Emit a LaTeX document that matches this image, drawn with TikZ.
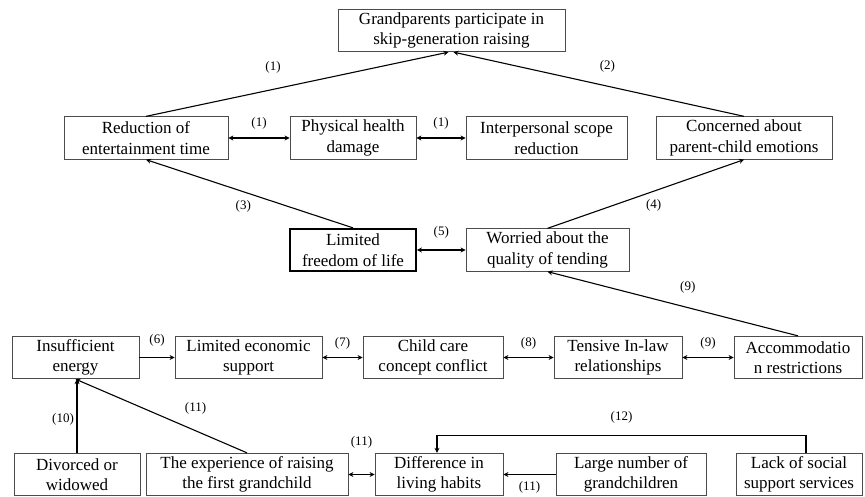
\documentclass[tikz,border=0pt]{standalone}
\usepackage{fontspec}
\setmainfont{Liberation Serif}
\usetikzlibrary{arrows.meta}

\begin{document}
\begin{tikzpicture}[%
    x=1pt, y=-1pt,
    box/.style={draw=black!70, line width=0.8pt, inner sep=0pt, align=center,
        minimum height=42.5pt, font=\fontsize{17}{20.5}\selectfont},
    thickbox/.style={box, draw=black, line width=1.8pt},
    lbl/.style={inner sep=0pt, font=\fontsize{13}{15}\selectfont},
    link/.style={line width=1.1pt, -{Stealth[length=5pt,width=5pt]}},
    both/.style={link, {Stealth[length=5pt,width=5pt]}-{Stealth[length=5pt,width=5pt]}}]

    \useasboundingbox (0,0) rectangle (865,497);

    \node[box, minimum width=227pt] (top) at (451.5,30.5) {Grandparents participate in\\skip-generation raising};

    \node[box, minimum width=164pt] (red) at (146,138) {Reduction of\\entertainment time};
    \node[box, minimum width=126pt] (phys) at (353,138) {Physical health\\damage};
    \node[box, minimum width=161pt] (inter) at (546.5,138) {Interpersonal scope\\reduction};
    \node[box, minimum width=176pt] (conc) at (744,138) {Concerned about\\parent-child emotions};

    \node[thickbox, minimum width=126pt] (lim) at (353,250) {Limited\\freedom of life};
    \node[box, minimum width=163pt] (wor) at (547.5,250) {Worried about the\\quality of tending};

    \node[box, minimum width=127pt] (ins) at (75.5,357.5) {Insufficient\\energy};
    \node[box, minimum width=147pt] (eco) at (248.5,357.5) {Limited economic\\support};
    \node[box, minimum width=140pt] (care) at (433,357.5) {Child care\\concept conflict};
    \node[box, minimum width=128pt] (ten) at (618,357.5) {Tensive In-law\\relationships};
    \node[box, minimum width=128pt] (acc) at (798,357.5) {Accommodatio\\n restrictions};

    \node[box, minimum width=126pt] (div) at (77,474.5) {Divorced or\\widowed};
    \node[box, minimum width=202pt] (exp) at (247,474.5) {The experience of raising\\the first grandchild};
    \node[box, minimum width=128pt] (dif) at (439,474.5) {Difference in\\living habits};
    \node[box, minimum width=150pt] (lar) at (631,474.5) {Large number of\\grandchildren};
    \node[box, minimum width=126pt] (lack) at (799,474.5) {Lack of social\\support services};

    % upper part
    \draw[link] (red.north) -- ([xshift=-3pt]top.south) node[lbl, pos=.42, yshift=22pt] {(1)};
    \draw[link] (conc.north) -- ([xshift=2pt]top.south) node[lbl, pos=.47, yshift=20pt] {(2)};
    \draw[both] (red) -- (phys) node[lbl, midway, yshift=15pt] {(1)};
    \draw[both] (phys) -- (inter) node[lbl, midway, yshift=15pt] {(1)};
    \draw[link] (lim.north) -- (red.south) node[lbl, pos=.53, yshift=-15pt] {(3)};
    \draw[link] (wor.north) -- (conc.south) node[lbl, pos=.54, yshift=-14pt] {(4)};
    \draw[both] (lim) -- (wor) node[lbl, midway, yshift=18pt] {(5)};
    \draw[link] (acc.north) -- (wor.south) node[lbl, pos=.44, yshift=20pt] {(9)};

    % middle row
    \draw[link] (ins) -- (eco) node[lbl, midway, yshift=17pt] {(6)};
    \draw[both] (eco) -- (care) node[lbl, midway, yshift=14pt] {(7)};
    \draw[both] (care) -- (ten) node[lbl, midway, yshift=14pt] {(8)};
    \draw[both] (ten) -- (acc) node[lbl, midway, yshift=14pt] {(9)};

    % bottom row
    \draw[link] (div.north) -- (div.north |- ins.south) node[lbl, midway, xshift=-14pt, yshift=-3pt] {(10)};
    \draw[link] (exp.north) -- (ins.south) node[lbl, pos=.3, yshift=22pt] {(11)};
    \draw[both] (exp) -- (dif) node[lbl, midway, yshift=32pt] {(11)};
    \draw[link] (lar) -- (dif) node[lbl, midway, yshift=-13pt] {(11)};
    \draw[link] ([xshift=7pt]lack.north) -- ++(0,-17) -| node[lbl, pos=.25, yshift=18pt] {(12)} ([xshift=-2pt]dif.north);

\end{tikzpicture}
\end{document}
